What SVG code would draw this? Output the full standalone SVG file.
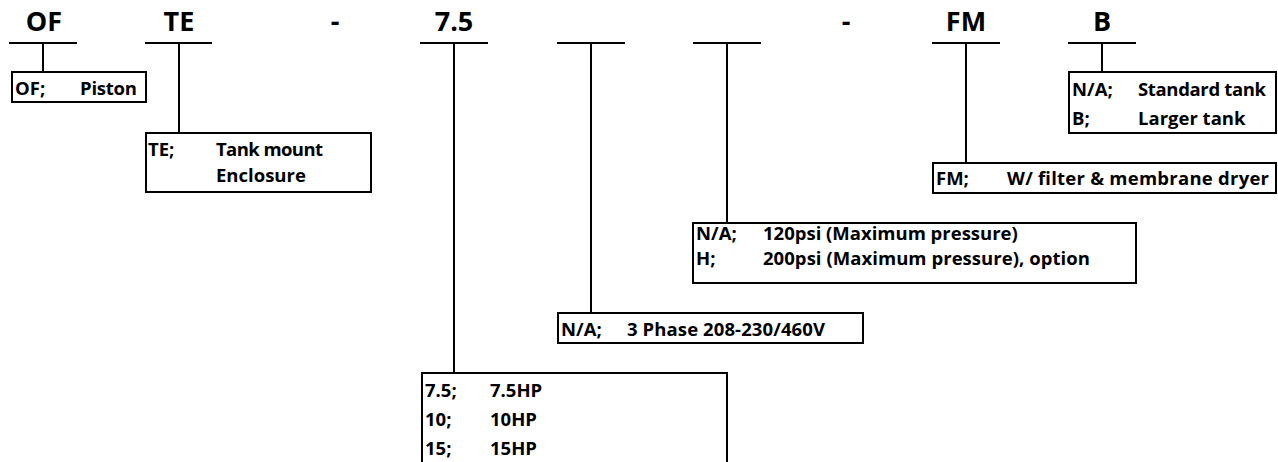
<svg xmlns="http://www.w3.org/2000/svg" width="1278" height="462" viewBox="0 0 1278 462">
<style>
.t{font-family:"Open Sans","Liberation Sans",sans-serif;font-weight:bold;font-size:27px;fill:#000;text-anchor:middle}
.s{font-family:"Open Sans","Liberation Sans",sans-serif;font-weight:bold;font-size:18.5px;fill:#000}
.b{fill:#fff;stroke:#000;stroke-width:2}
.c line{stroke:#000;stroke-width:2}
</style>
<rect width="1278" height="462" fill="#fff"/>
<g id="titles">
<text class="t" x="44" y="31">OF</text>
<text class="t" x="179" y="31">TE</text>
<text class="t" x="335" y="31">-</text>
<text class="t" x="454" y="31">7.5</text>
<text class="t" x="846" y="31">-</text>
<text class="t" x="966" y="31">FM</text>
<text class="t" x="1102" y="31">B</text>
</g>
<g class="c" id="connectors">
<line x1="9" y1="43" x2="77" y2="43"/>
<line x1="145" y1="43" x2="212" y2="43"/>
<line x1="420" y1="43" x2="488" y2="43"/>
<line x1="557" y1="43" x2="625" y2="43"/>
<line x1="693" y1="43" x2="761" y2="43"/>
<line x1="932" y1="43" x2="1000" y2="43"/>
<line x1="1068" y1="43" x2="1136" y2="43"/>
<line x1="43" y1="43" x2="43" y2="72"/>
<line x1="179" y1="43" x2="179" y2="133"/>
<line x1="454" y1="43" x2="454" y2="373"/>
<line x1="591" y1="43" x2="591" y2="313"/>
<line x1="727" y1="43" x2="727" y2="223"/>
<line x1="966" y1="43" x2="966" y2="163"/>
<line x1="1102" y1="43" x2="1102" y2="72"/>
</g>
<g id="node-of">
<rect class="b" x="12" y="72" width="134" height="30"/>
<text class="s" x="15" y="95">OF;</text>
<text class="s" x="80" y="95" textLength="57">Piston</text>
</g>
<g id="node-te">
<rect class="b" x="146" y="133" width="225" height="59"/>
<text class="s" x="148" y="156">TE;</text>
<text class="s" x="216" y="156" textLength="107">Tank mount</text>
<text class="s" x="216" y="182">Enclosure</text>
</g>
<g id="node-hp">
<rect class="b" x="422" y="373" width="305" height="100"/>
<text class="s" x="425" y="397">7.5;</text>
<text class="s" x="490" y="397">7.5HP</text>
<text class="s" x="425" y="426">10;</text>
<text class="s" x="490" y="426">10HP</text>
<text class="s" x="425" y="455">15;</text>
<text class="s" x="490" y="455">15HP</text>
</g>
<g id="node-phase">
<rect class="b" x="558" y="313" width="305" height="30"/>
<text class="s" x="561" y="336">N/A;</text>
<text class="s" x="627" y="336" textLength="198">3 Phase 208-230/460V</text>
</g>
<g id="node-pressure">
<rect class="b" x="693" y="223" width="443" height="60"/>
<text class="s" x="696" y="240">N/A;</text>
<text class="s" x="763" y="240">120psi (Maximum pressure)</text>
<text class="s" x="696" y="265">H;</text>
<text class="s" x="763" y="265" textLength="327">200psi (Maximum pressure), option</text>
</g>
<g id="node-fm">
<rect class="b" x="933" y="163" width="343" height="30"/>
<text class="s" x="936" y="185">FM;</text>
<text class="s" x="1007" y="185" textLength="262">W/ filter &amp; membrane dryer</text>
</g>
<g id="node-b">
<rect class="b" x="1069" y="72" width="207" height="61"/>
<text class="s" x="1072" y="96">N/A;</text>
<text class="s" x="1138" y="96" textLength="128">Standard tank</text>
<text class="s" x="1072" y="125">B;</text>
<text class="s" x="1138" y="125">Larger tank</text>
</g>
</svg>
